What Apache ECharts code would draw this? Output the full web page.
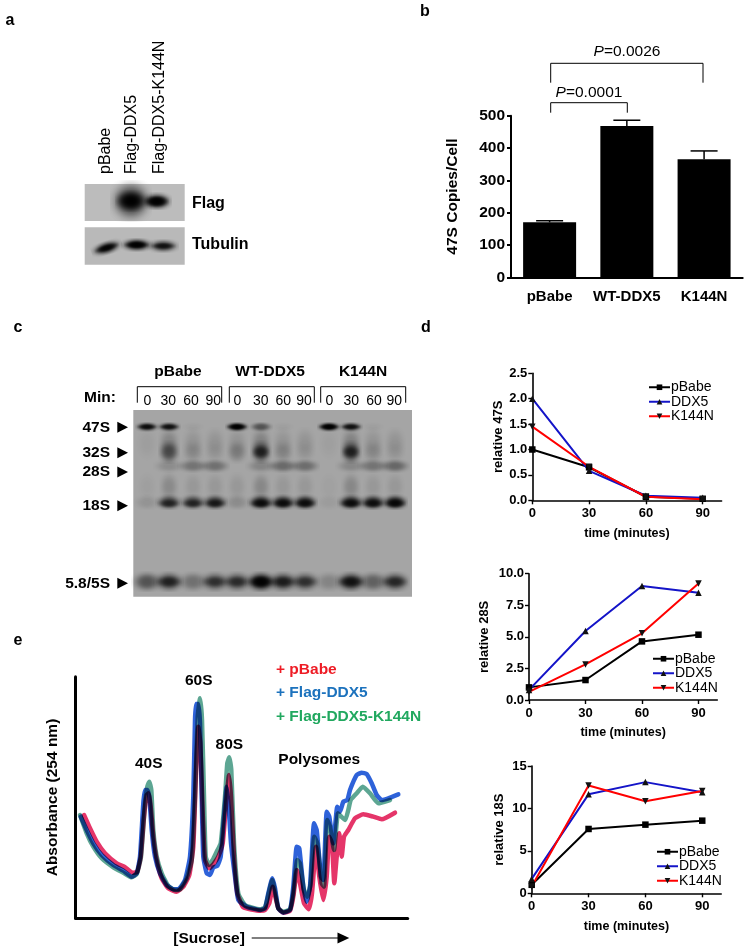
<!DOCTYPE html>
<html><head><meta charset="utf-8">
<style>html,body{margin:0;padding:0;background:#fff}#c{width:749px;height:952px}</style>
<script src="https://cdn.jsdelivr.net/npm/echarts@6/dist/echarts.min.js"></script>
</head><body><div id="c"></div>
<script>
// ---------- Panel b ----------
const barCategories = ['pBabe', 'WT-DDX5', 'K144N'];
const barValues = [170, 468, 365];
const barUpper = [175, 486, 391];
// ---------- Panel d ----------
const timeTicks = [0, 30, 60, 90];
const seriesNames = ['pBabe', 'DDX5', 'K144N'];
const r47S_pBabe = [1.0, 0.65, 0.07, 0.03];
const r47S_DDX5 = [2.0, 0.58, 0.09, 0.05];
const r47S_K144N = [1.45, 0.66, 0.07, 0.02];
const r28S_pBabe = [1.0, 1.58, 4.64, 5.17];
const r28S_DDX5 = [0.8, 5.46, 9.02, 8.5];
const r28S_K144N = [0.65, 2.82, 5.28, 9.23];
const r18S_pBabe = [1.0, 7.58, 8.09, 8.56];
const r18S_DDX5 = [1.7, 11.66, 13.1, 11.9];
const r18S_K144N = [0.8, 12.7, 10.85, 12.06];
// ---------- Panel e: [sucrose position, absorbance] ----------
const traceBlue = [[5,101.6],[11,88.3],[17.6,75],[26,63.3],[37.6,53.3],[47.6,47.6],[56,41.6],[61,45],[64.3,61.6],[67.6,115],[69.3,128.3],[71.6,128.3],[73.6,121.6],[76,88.3],[79.3,61.6],[84.3,45],[91,33.3],[97.6,29],[102.6,29],[109.3,38.3],[114.3,61.6],[117.6,121.6],[119.3,198.3],[120.3,214.3],[122.6,214.3],[124.3,195],[126,121.6],[127.6,61.6],[131,45],[134.3,43.3],[137.6,51],[141.6,52.3],[145,61.6],[148.3,101.6],[151,131.6],[153,111.6],[155.3,75],[159.3,41.6],[162.6,18.3],[171,11.6],[184.3,8.3],[189.3,10],[192.6,25],[196.6,40],[199.3,30],[202.6,10],[207.6,5.6],[214.3,8.3],[217.6,31.6],[221,71.6],[223.6,70],[227.6,31.6],[231,16.6],[234.3,31.6],[238.3,95],[241,88.3],[245.3,41.6],[247.6,38.3],[251,106.6],[253.6,101.6],[257.6,75],[261.6,111.6],[264.3,106.6],[267.6,116.6],[271.6,118.3],[274.3,128.3],[281,143.3],[286,145.6],[291,144.3],[296,135],[301,123.3],[306,118.3],[312.6,120],[322.6,124]];
const traceGreen = [[4.3,103.3],[11,85],[17.6,71.6],[26,60],[37.6,51],[47.6,45.6],[56,41],[61,44.3],[65.3,61.6],[69.3,115],[71.6,131.6],[73.6,136.6],[75.6,128.3],[77.6,88.3],[81,61.6],[86,45],[92.6,32.3],[99.3,28.3],[104.3,29],[111,40],[116,58.3],[119.3,121.6],[122,201.6],[124.3,220],[126.3,198.3],[128.3,121.6],[130,61.6],[133.3,53.3],[137,58.3],[141,66.6],[145,75],[149.3,121.6],[151.6,155],[153.6,161],[155.6,148.3],[158.3,75],[162.6,25],[169.3,13.3],[184.3,9],[189.3,11],[192.6,23.3],[196.6,38.3],[199.3,26.6],[202.6,10],[207.6,6.6],[214.3,9],[217.6,25],[221.6,58.3],[224.3,55],[228.3,28.3],[231.6,21.6],[235,35],[238.6,81.6],[241.6,75],[246,35],[248.3,31.6],[251.6,98.3],[254.3,91.6],[258.3,68.3],[262.3,105],[265.6,101.6],[269.6,98.3],[272.6,108.3],[275,118.3],[281,125],[287,131.6],[294.3,125],[302.6,115],[314.3,118.3]];
const traceRed = [[8.3,103.3],[14.3,90],[21,76.6],[29.3,65],[41,55],[49.3,51],[57,45.6],[61.6,46.6],[65,61.6],[68.3,101.6],[71,123.3],[73,125],[75,111.6],[77.6,81.6],[81,58.3],[86,40],[92.6,30],[101,26.6],[107.6,31.6],[113.6,43.3],[117.6,71.6],[120.3,145],[122.6,191.6],[124.6,175],[127,105],[129.3,58.3],[133.6,50],[138.3,55],[142.6,61.6],[147,75],[151,121.6],[153.3,143.3],[155.3,121.6],[158.3,61.6],[161.6,25],[167.6,11],[184.3,7.6],[189.3,8.3],[193.6,15],[197,31.6],[199.6,21.6],[202.6,10],[207.6,5.6],[214.3,7.6],[217.6,21.6],[221.3,48.3],[224.3,35],[228.3,15],[233,9],[236.3,25],[240.3,71.6],[243.6,41.6],[247.6,18.3],[251,41.6],[253.6,81.6],[256.3,75],[258.6,35],[261,61.6],[263.6,85],[266,61.6],[268.3,81.6],[272.6,88.3],[279.3,100],[287.6,104],[297.6,101.6],[306,99],[319.3,105.6]];
// ---------- Panel c: gel, band intensity per lane ----------
const gelLanes = [4.9,12.8,21.4,29.3,37.2,45.8,53.7,61.6,70.2,78.1,86,93.9];
const gelLaneTimes = ['0','30','60','90','0','30','60','90','0','30','60','90'];
const gelBandNames = ['47S','32S','28S','18S','5.8/5S'];
const gelMigration = [9, 22.5, 30, 49.5, 92];
const gel47S = [.8,.75,.03,0,1,.5,.03,0,1,.75,.03,0];
const gel32S = [0,.5,.12,.05,.2,.6,.15,.05,0,.6,.12,.05];
const gel28S = [0,.15,.3,.32,0,.2,.36,.34,0,.18,.3,.38];
const gel18S = [.1,.62,.62,.7,.15,.82,.82,.82,.05,.82,.8,.88];
const gel58S = [.5,.62,.32,.52,.55,.95,.66,.52,.2,.75,.42,.58];
const gelSmear = [.04,.2,.1,.1,.1,.22,.1,.1,.03,.22,.1,.1];
// ---------- Panel a: blot band intensity ----------
const flagLanes = [46.3, 72];
const flagIntensity = [1, .95];
const tubulinLanes = [22, 52, 78.6];
const tubulinIntensity = [.85, .95, .7];
const tubulinMid = [55, 47, 50];

const FONT = '"Liberation Sans", Arial, sans-serif';
const RED = '#ff0000', BLUE = '#1414c8', BLACK = '#000000';

// soft band sprite used as the scatter symbol of the gel and blot bands
function blobSprite() {
  const n = 96, cv = document.createElement('canvas'); cv.width = cv.height = n;
  const ctx = cv.getContext('2d'), im = ctx.createImageData(n, n);
  for (let y = 0; y < n; y++) for (let x = 0; x < n; x++) {
    const dx = (x + .5 - n / 2) / (n / 2), dy = (y + .5 - n / 2) / (n / 2);
    const r = Math.sqrt(dx * dx + dy * dy);
    const a = Math.max(0, Math.exp(-Math.pow(r * 1.35, 3)) - .004);
    im.data[4 * (y * n + x) + 3] = Math.round(a * 255);
  }
  ctx.putImageData(im, 0, 0);
  return 'image://' + cv.toDataURL();
}
const BLOB = blobSprite();

const grids = [
  {left: 511, top: 115.7, width: 231.7, height: 161.6},
  {left: 532.3, top: 373.3, width: 189.3, height: 127},
  {left: 529, top: 573.7, width: 188.3, height: 126.3},
  {left: 531.7, top: 766, width: 189.5, height: 127.3},
  {left: 75.7, top: 676.7, width: 332, height: 241.6},
  {left: 133.3, top: 410, width: 278.7, height: 186.7, show: true, backgroundColor: '#a5a5a5', borderWidth: 0},
  {left: 84.7, top: 184, width: 100, height: 37, show: true, backgroundColor: '#bcbcbc', borderWidth: 0},
  {left: 84.7, top: 227.3, width: 100, height: 37.4, show: true, backgroundColor: '#b9b9b9', borderWidth: 0}
];

const axisBold = size => ({fontFamily: FONT, fontWeight: 'bold', fontSize: size, color: '#000'});
function timeAxis(i, nameGap) {
  return {type: 'value', gridIndex: i, min: 0, max: 100, name: 'time (minutes)', nameLocation: 'middle', nameGap,
    nameTextStyle: axisBold(12.5),
    axisLine: {show: true, lineStyle: {color: '#000', width: 1.6}},
    axisTick: {show: true, length: 4, inside: false, lineStyle: {color: '#000', width: 1.4}, customValues: timeTicks},
    axisLabel: {...axisBold(13), margin: 7, customValues: timeTicks}, splitLine: {show: false}};
}
function relAxis(i, name, max, interval, digits, nameGap) {
  return {type: 'value', gridIndex: i, min: 0, max, interval, name, nameLocation: 'middle', nameGap,
    nameTextStyle: axisBold(13),
    axisLine: {show: true, lineStyle: {color: '#000', width: 1.6}},
    axisTick: {show: true, length: 4, lineStyle: {color: '#000', width: 1.4}},
    axisLabel: {...axisBold(13), margin: 5, formatter: v => v.toFixed(digits)}, splitLine: {show: false}};
}
const hiddenAxis = (i, inverse) => ({type: 'value', gridIndex: i, min: 0, max: 100, show: false, inverse: !!inverse, splitLine: {show: false}});

const xAxes = [
  {type: 'category', gridIndex: 0, data: barCategories,
   axisLine: {show: true, lineStyle: {color: '#000', width: 2}}, axisTick: {show: false},
   axisLabel: {...axisBold(15), margin: 12, interval: 0}},
  timeAxis(1, 26.5), timeAxis(2, 26.5), timeAxis(3, 26.5),
  {type: 'value', gridIndex: 4, min: 0, max: 332, show: true, axisLine: {show: true, lineStyle: {color: '#000', width: 3}},
   axisTick: {show: false}, axisLabel: {show: false}, splitLine: {show: false}},
  hiddenAxis(5), hiddenAxis(6), hiddenAxis(7)
];
const yAxes = [
  {type: 'value', gridIndex: 0, min: 0, max: 500, interval: 100, name: '47S Copies/Cell', nameLocation: 'middle', nameGap: 50,
   nameTextStyle: axisBold(15.5),
   axisLine: {show: true, lineStyle: {color: '#000', width: 2}},
   axisTick: {show: true, length: 4, lineStyle: {color: '#000', width: 2}},
   axisLabel: {...axisBold(15.5), margin: 6}, splitLine: {show: false}},
  relAxis(1, 'relative 47S', 2.5, .5, 1, 26),
  relAxis(2, 'relative 28S', 10, 2.5, 1, 38),
  relAxis(3, 'relative 18S', 15, 5, 0, 26),
  {type: 'value', gridIndex: 4, min: 0, max: 241.6, name: 'Absorbance (254 nm)', nameLocation: 'middle', nameGap: 15,
   nameTextStyle: axisBold(15.5), axisLine: {show: true, lineStyle: {color: '#000', width: 3}},
   axisTick: {show: false}, axisLabel: {show: false}, splitLine: {show: false}},
  hiddenAxis(5, true), hiddenAxis(6, true), hiddenAxis(7, true)
];

function lineSeries(i, name, color, symbol, values) {
  return {type: 'line', name, xAxisIndex: i, yAxisIndex: i, data: timeTicks.map((t, k) => [t, values[k]]),
    symbol, symbolSize: 6.5, showSymbol: true, smooth: false, clip: false,
    lineStyle: {color, width: 2}, itemStyle: {color: color === RED ? '#111' : (color === BLUE ? '#111' : color)},
    emphasis: {disabled: true}, z: 5};
}
function panelLines(i, a, b, c) {
  return [lineSeries(i, 'pBabe', BLACK, 'rect', a), lineSeries(i, 'DDX5', BLUE, 'triangle', b),
    (s => (s.symbolRotate = 180, s))(lineSeries(i, 'K144N', RED, 'triangle', c))];
}
function traceSeries(data, color) {
  return {type: 'line', xAxisIndex: 4, yAxisIndex: 4, data, showSymbol: false, symbol: 'none', smooth: .15, clip: false,
    lineStyle: {color, width: 4.5, opacity: .92, join: 'round', cap: 'round'}, blendMode: 'multiply', emphasis: {disabled: true}, z: 3};
}
function bandSeries(grid, items) {
  return {type: 'scatter', xAxisIndex: grid, yAxisIndex: grid, data: items, symbol: BLOB, silent: true, z: 3, animation: false};
}
const band = (x, y, w, h, a, rot) => ({value: [x, y], symbolSize: [w, h], symbolRotate: rot || 0, itemStyle: {opacity: Math.min(1, a)}});

// gel bands: size depends on the band species only
const gelRows = [gel47S, gel32S, gel28S, gel18S, gel58S];
const gelW = [24, 22, 31, 27, 31], gelH = [10, 24, 14, 16, 21];
const gelItems = [];
gelLanes.forEach((x, i) => {
  gelItems.push(band(x, 18, 22, 34, gelSmear[i]));
  gelItems.push(band(x, 41, 20, 30, gelSmear[i] * .8));
  gelRows.forEach((row, r) => {
    if (row[i] > 0) {
      gelItems.push(band(x, gelMigration[r], gelW[r], gelH[r], row[i]));
      if (row[i] > .5 && r !== 2) gelItems.push(band(x, gelMigration[r] + (r === 3 ? .6 : 0), gelW[r] * .85, gelH[r] * .55, row[i] * .8));
    }
  });
});
const flagItems = [
  band(flagLanes[0], 46, 42, 42, .7 * flagIntensity[0]), band(flagLanes[0], 46, 33, 22, flagIntensity[0]),
  band(flagLanes[1], 47, 31, 18, flagIntensity[1]), band(flagLanes[1], 47, 25, 11, flagIntensity[1])
];
const tubItems = tubulinLanes.flatMap((x, i) => [
  band(x, tubulinMid[i], 32, 14, tubulinIntensity[i], i === 0 ? 17 : 0),
  band(x, tubulinMid[i], 25, 7, tubulinIntensity[i], i === 0 ? 17 : 0)
]);

const series = [
  {type: 'bar', xAxisIndex: 0, yAxisIndex: 0, data: barValues, barWidth: 53, itemStyle: {color: '#000'}, emphasis: {disabled: true}, z: 2},
  {type: 'custom', xAxisIndex: 0, yAxisIndex: 0, data: barCategories.map((c, i) => [i, barValues[i], barUpper[i]]), z: 3, clip: false,
   renderItem(params, api) {
     const a = api.coord([api.value(0), api.value(1)]), b = api.coord([api.value(0), api.value(2)]);
     const ls = {stroke: '#000', lineWidth: 1.5};
     return {type: 'group', children: [
       {type: 'line', shape: {x1: a[0], y1: a[1], x2: b[0], y2: b[1]}, style: ls},
       {type: 'line', shape: {x1: a[0] - 13.5, y1: b[1], x2: a[0] + 13.5, y2: b[1]}, style: ls}
     ]};
   }},
  ...panelLines(1, r47S_pBabe, r47S_DDX5, r47S_K144N),
  ...panelLines(2, r28S_pBabe, r28S_DDX5, r28S_K144N),
  ...panelLines(3, r18S_pBabe, r18S_DDX5, r18S_K144N),
  traceSeries(traceRed, '#e3245c'),
  traceSeries(traceGreen, '#4f9f8a'),
  traceSeries(traceBlue, '#1c55d6'),
  bandSeries(5, gelItems), bandSeries(6, flagItems), bandSeries(7, tubItems)
];

const legendAt = (left, top) => ({left, top, orient: 'vertical', data: seriesNames, itemWidth: 21, itemHeight: 7, itemGap: 0,
  selectedMode: false, padding: 0, textStyle: {fontFamily: FONT, fontSize: 14, lineHeight: 14.5, color: '#000', padding: [0, 0, 0, -4]}});

// annotation text and hand-drawn furniture
const G = [];
function T(x, y, text, o = {}) {
  G.push({type: 'text', x, y, rotation: o.rot || 0, silent: true, z: 20, style: {text, fontFamily: FONT, fontSize: o.size || 15.5,
    fontWeight: o.weight || 'bold', fill: o.color || '#000', align: o.align || 'center', verticalAlign: 'middle', rich: o.rich}});
}
function P(points, o = {}) {
  G.push({type: 'polyline', shape: {points}, silent: true, z: 20, style: {stroke: '#000', lineWidth: o.w || 1, fill: null}});
}
function Tri(points) { G.push({type: 'polygon', shape: {points}, silent: true, z: 20, style: {fill: '#000'}}); }

T(10, 21, 'a', {size: 16}); T(425, 12, 'b', {size: 16}); T(18, 328, 'c', {size: 16}); T(426, 328, 'd', {size: 16}); T(18, 641, 'e', {size: 16});
// a
[[106, 'pBabe'], [132, 'Flag-DDX5'], [160, 'Flag-DDX5-K144N']].forEach(([x, s]) =>
  T(x, 174, s, {size: 16, weight: 'normal', rot: Math.PI / 2, align: 'left'}));
T(192, 204, 'Flag', {size: 16, align: 'left'}); T(192, 244.5, 'Tubulin', {size: 16, align: 'left'});
// b
const pRich = {i: {fontFamily: FONT, fontSize: 15.5, fontStyle: 'italic', fill: '#000'}, n: {fontFamily: FONT, fontSize: 15.5, fill: '#000'}};
T(627, 52, '{i|P}{n|=0.0026}', {rich: pRich, weight: 'normal'});
T(589, 93, '{i|P}{n|=0.0001}', {rich: pRich, weight: 'normal'});
P([[550.7, 82.7], [550.7, 63.3], [703, 63.3], [703, 82.7]]);
P([[550.7, 112.7], [550.7, 102.7], [627.3, 102.7], [627.3, 112.7]]);
// c
T(178, 372, 'pBabe'); T(270, 372, 'WT-DDX5'); T(363, 372, 'K144N');
T(84, 398, 'Min:', {align: 'left'});
[[137.3, 221.7], [229.3, 314.3], [320.7, 405.7]].forEach(([a, b]) => P([[a, 402.7], [a, 386.7], [b, 386.7], [b, 402.7]]));
[147.3, 168.3, 191, 213.3, 237.3, 260.7, 283.3, 304, 329.3, 351.3, 374, 394.3].forEach((x, i) =>
  T(x, 401, gelLaneTimes[i], {size: 14, weight: 'normal'}));
[427.3, 452.7, 472, 505.7, 583.3].forEach((y, i) => {
  T(110, y, gelBandNames[i], {align: 'right'});
  Tri([[117.3, y - 5.5], [128, y], [117.3, y + 5.5]]);
});
// e
T(148.7, 764, '40S'); T(198.7, 681, '60S'); T(229.3, 744.7, '80S');
T(278.3, 759.3, 'Polysomes', {align: 'left'});
T(276, 669.3, '+ pBabe', {align: 'left', color: '#ee1c25'});
T(276, 692.7, '+ Flag-DDX5', {align: 'left', color: '#1c72bd'});
T(276, 716.7, '+ Flag-DDX5-K144N', {align: 'left', color: '#21a85f'});
T(173.3, 938.3, '[Sucrose]', {align: 'left'});
P([[251.7, 938], [340, 938]], {w: 1.2});
Tri([[337.5, 932.5], [349.3, 938], [337.5, 943.5]]);

const chart = echarts.init(document.getElementById('c'), null, {renderer: 'canvas', width: 749, height: 952});
chart.setOption({
  animation: false, backgroundColor: '#fff', textStyle: {fontFamily: FONT},
  grid: grids, xAxis: xAxes, yAxis: yAxes, series,
  legend: [legendAt(648, 380), legendAt(652, 651.5), legendAt(656, 844.5)],
  graphic: {elements: G}
});
</script></body></html>
